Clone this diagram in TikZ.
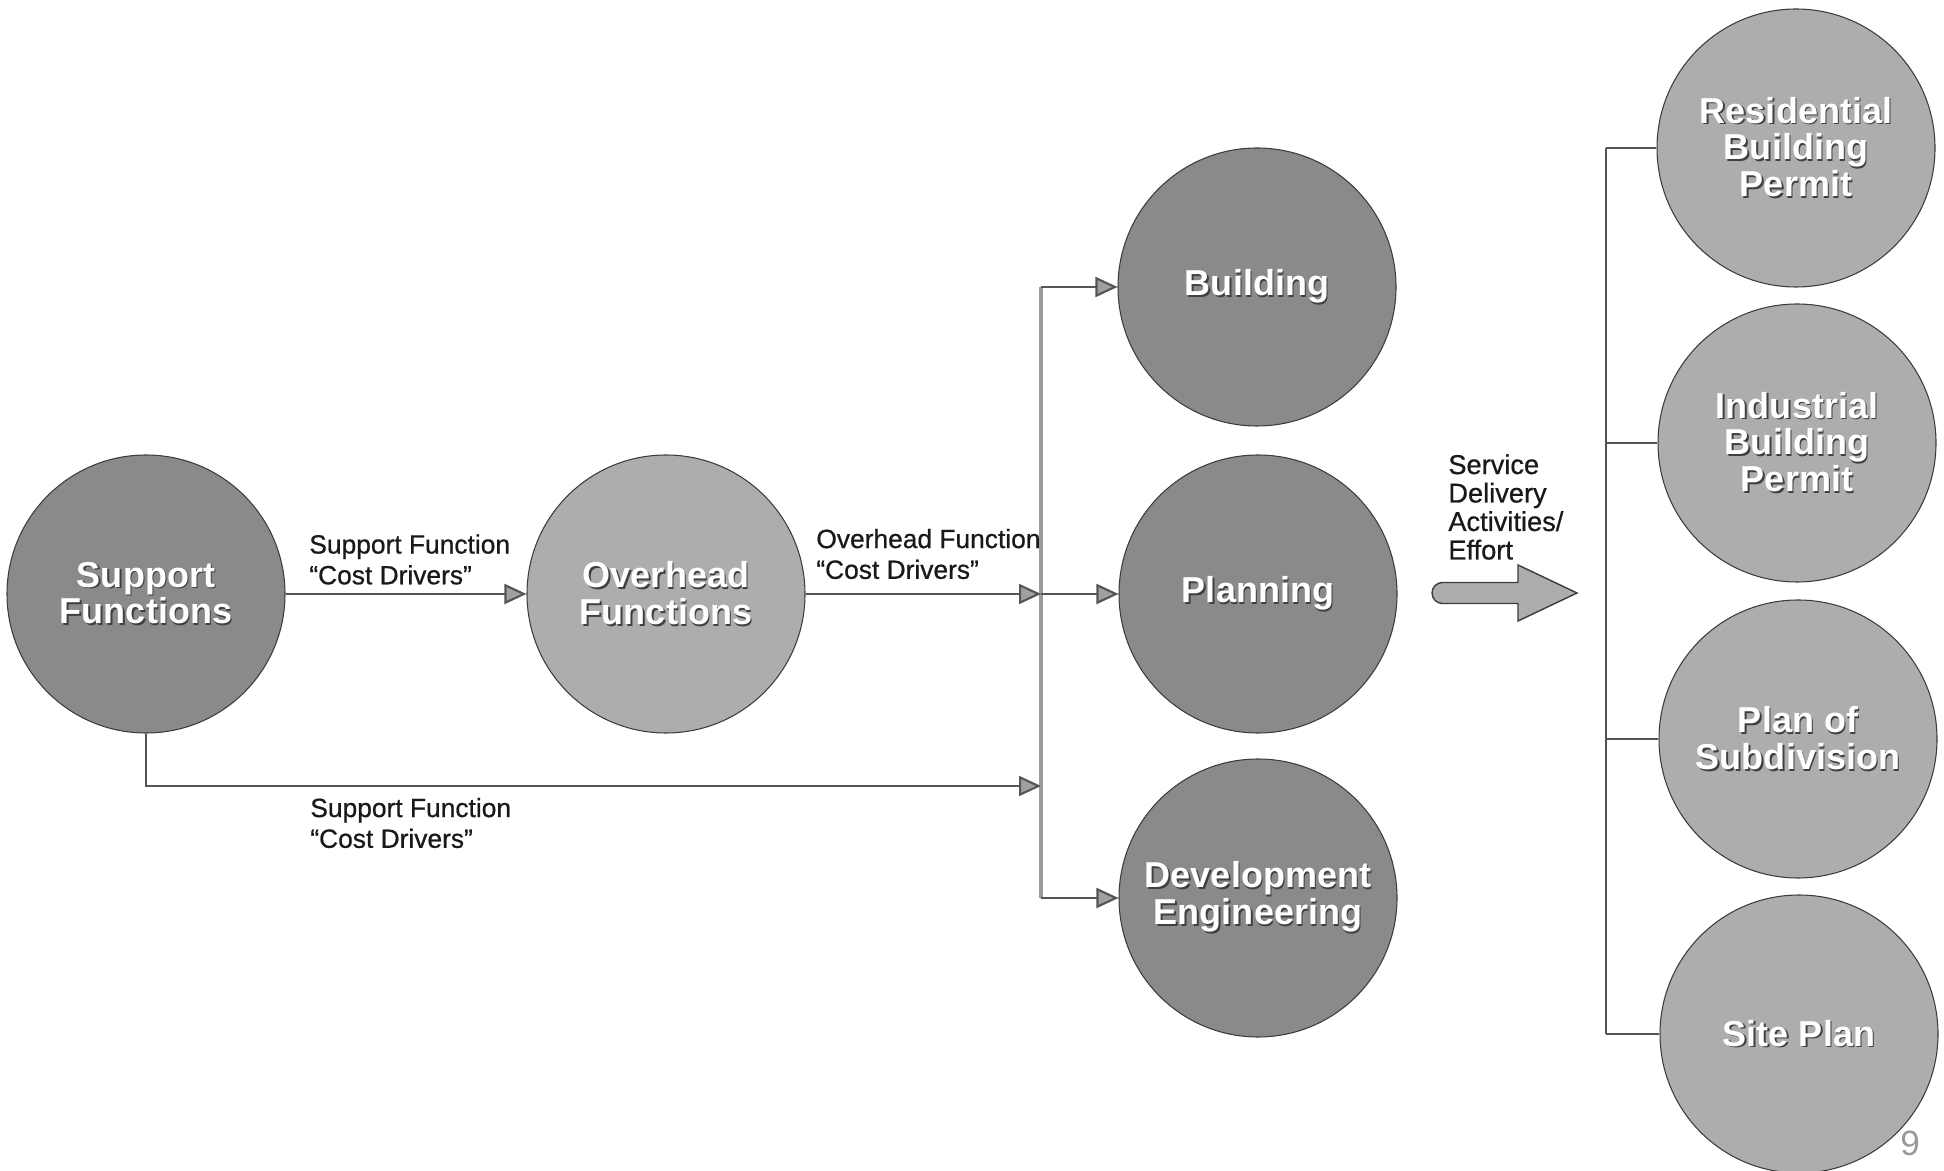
\documentclass[tikz,border=0pt]{standalone}
\usepackage{fontspec}
\setmainfont{Liberation Sans}
\newfontfamily\notefont{Liberation Sans}[FakeBold=0.7]
\usepackage{tikz}
\usetikzlibrary{arrows.meta, positioning}

\definecolor{darkfill}{HTML}{8A8A8A}
\definecolor{lightfill}{HTML}{ADADAD}
\definecolor{rimgray}{HTML}{3C3C3C}
\definecolor{linegray}{HTML}{555555}
\definecolor{busgray}{HTML}{9C9C9C}
\definecolor{tipgray}{HTML}{A0A0A0}
\definecolor{embshadow}{HTML}{404040}

% white lettering with a dark drop shadow
\newcommand{\emb}[1]{\rlap{\kern1pt\raisebox{-1pt}{\textcolor{embshadow}{#1}}}#1}

\begin{document}
\begin{tikzpicture}[
  darkcirc/.style={circle, draw=rimgray, line width=0.6pt, fill=darkfill, minimum size=5.56cm,
    inner sep=0pt, text=white, align=center, font=\bfseries\fontsize{20.5}{21}\selectfont},
  lightcirc/.style={darkcirc, fill=lightfill},
  arrow/.style={-{Triangle[length=4.4mm, width=4mm, fill=tipgray]}, draw=linegray, line width=1.2pt},
  link/.style={draw=linegray, line width=1.2pt},
  bus/.style={draw=busgray, line width=1.8pt},
  note/.style={inner sep=0pt, anchor=west, align=left, text=black!90, font=\notefont\fontsize{15}{17.5}\selectfont},
]
\useasboundingbox (0,0) rectangle (38.88,23.4);

% Nodes
\node[darkcirc] (sup) at (2.92,11.52) {\emb{Support}\\\emb{Functions}};
\node[lightcirc] (ovh) at (13.32,11.52) {\emb{Overhead}\\\emb{Functions}};

\node[darkcirc] (bld) at (25.14,17.66) {\emb{Building}};
\node[darkcirc] (pln) at (25.16,11.52) {\emb{Planning}};
\node[darkcirc] (dev) at (25.16,5.44) {\emb{Development}\\\emb{Engineering}};

\node[lightcirc] (res) at (35.92,20.44) {\emb{Residential}\\\emb{Building}\\\emb{Permit}};
\node[lightcirc] (ind) at (35.94,14.54) {\emb{Industrial}\\\emb{Building}\\\emb{Permit}};
\node[lightcirc] (pos) at (35.96,8.62) {\emb{Plan of}\\\emb{Subdivision}};
\node[lightcirc] (site) at (35.98,2.72) {\emb{Site Plan}};

% Labels
\node[note] (lblsup) at (6.18,12.21) {Support Function\\“Cost Drivers”};
\node[note] (lblovh) at (16.32,12.32) {Overhead Function\\“Cost Drivers”};
\node[note] (lbllow) at (6.20,6.94) {Support Function\\“Cost Drivers”};
\node[note, font=\notefont\fontsize{15.5}{16.2}\selectfont] (lblsvc) at (28.96,13.26)
  {Service\\Delivery\\Activities/\\Effort};
\node[inner sep=0pt, text=black!40, font=\fontsize{20}{20}\selectfont] (pnum) at (38.2,0.54) {9};

% Bus and bracket points
\coordinate (bustop) at (20.82,17.66);
\coordinate (busmid) at (20.82,11.52);
\coordinate (buslow) at (20.82,7.68);
\coordinate (busbot) at (20.82,5.44);
\coordinate (brtop) at (32.12,20.44);
\coordinate (brbot) at (32.12,2.72);

% Service delivery block arrow
\draw[draw=rimgray, line width=0.8pt, fill=lightfill]
  (30.36,11.75) -- (30.36,12.10) -- (31.54,11.54) -- (30.36,10.98) -- (30.36,11.33)
  -- (28.85,11.33) arc (270:90:0.21) -- cycle;

% Arrows
\draw[bus] (bustop) -- (busbot);
\draw[arrow] (sup) -- (ovh);
\draw[arrow] (ovh) -- (busmid);
\draw[arrow] (sup.south) |- (buslow);
\draw[arrow] (bustop) -- (bld);
\draw[arrow] (busmid) -- (pln);
\draw[arrow] (busbot) -- (dev);

% Bracket to the service types
\draw[link] (brtop) -- (brbot);
\draw[link] (brtop) -- (res);
\draw[link] (brtop |- ind) -- (ind);
\draw[link] (brtop |- pos) -- (pos);
\draw[link] (brbot) -- (site);

\end{tikzpicture}
\end{document}
